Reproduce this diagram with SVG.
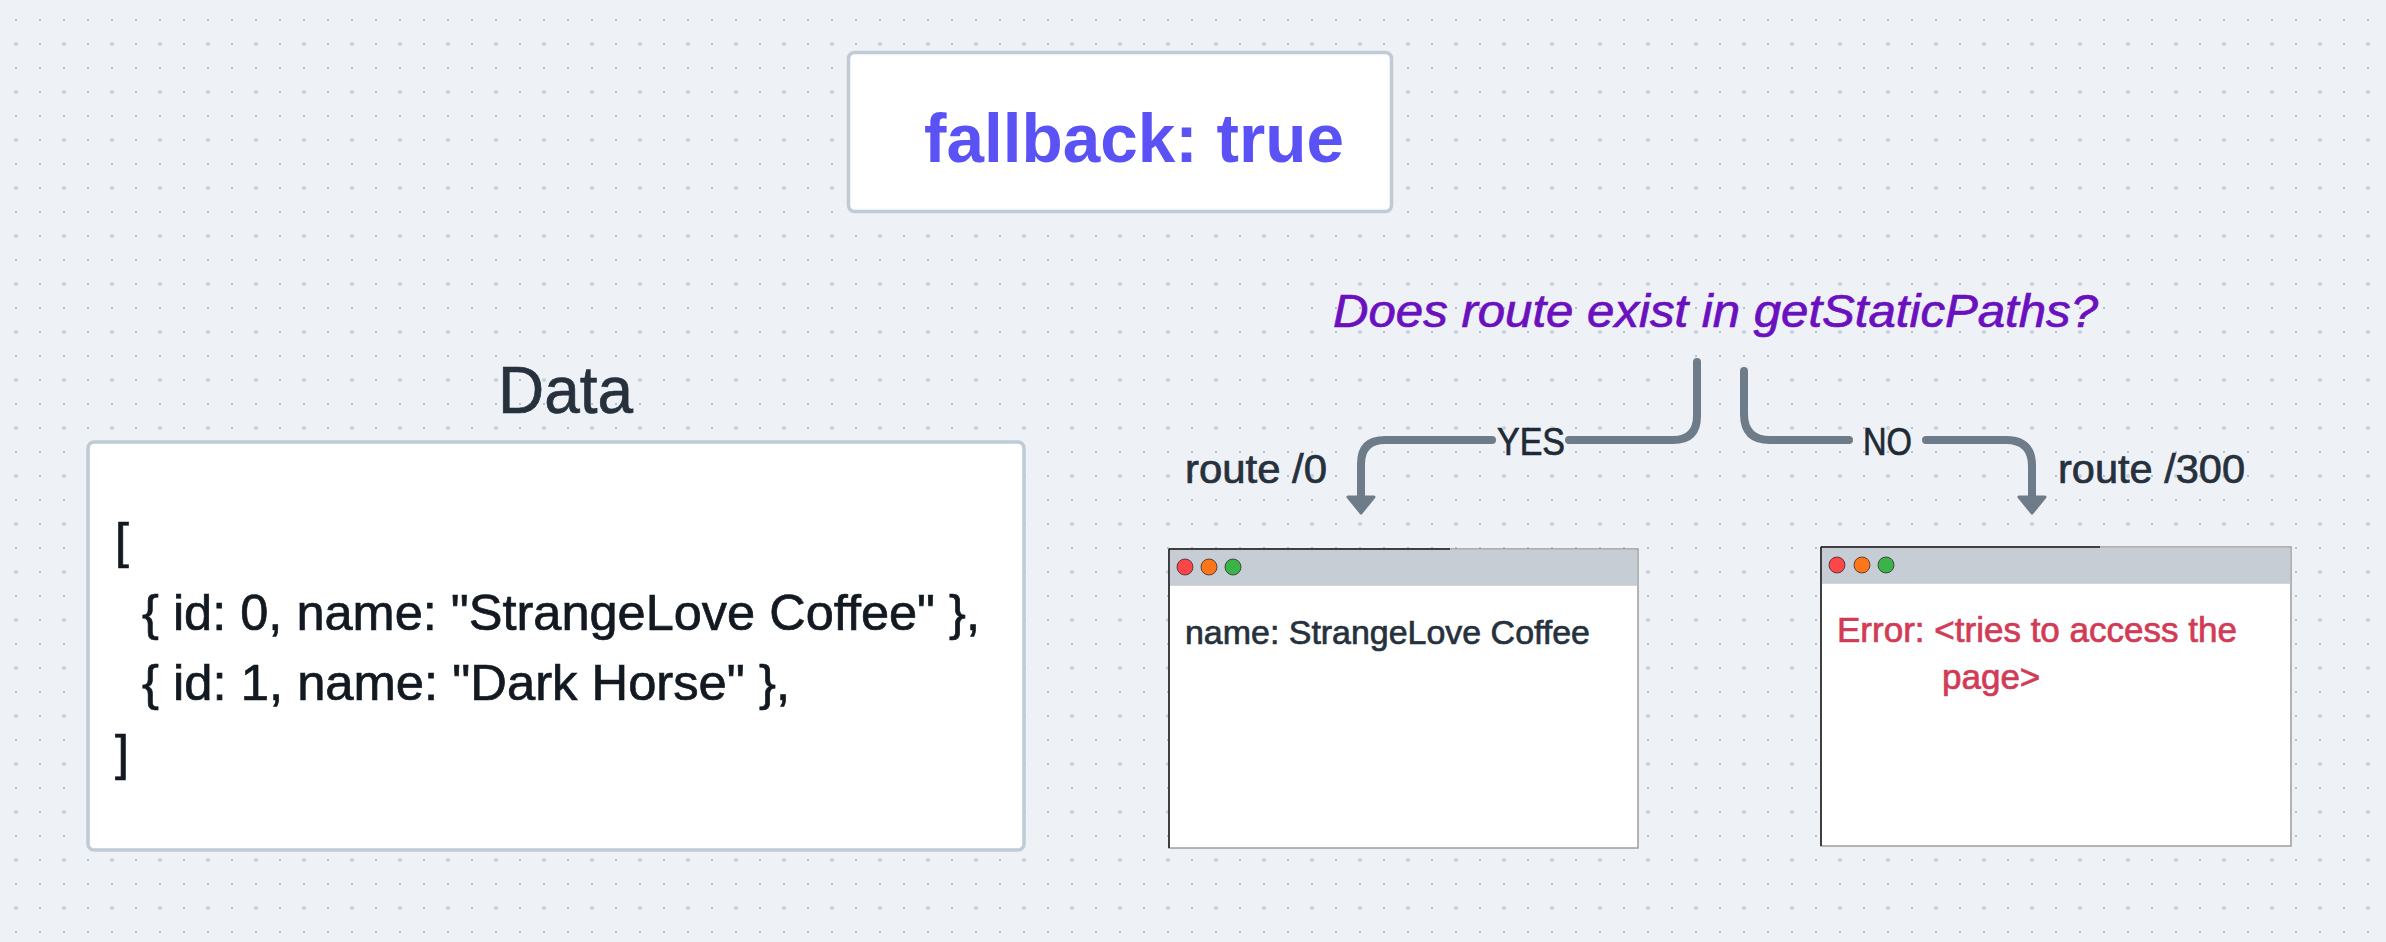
<svg xmlns="http://www.w3.org/2000/svg" width="2386" height="942" viewBox="0 0 2386 942">
<defs>
<pattern id="dots" patternUnits="userSpaceOnUse" width="48" height="48">
<rect x="15" y="19" width="2" height="2" fill="#b9c2cc"/>
<rect x="39" y="19" width="2" height="2" fill="#b9c2cc"/>
<rect x="39" y="43" width="2" height="2" fill="#b9c2cc"/>
<circle cx="16" cy="44" r="2" fill="#c6d0db"/>
</pattern>
<style>
.t{font-family:"Liberation Sans",Arial,sans-serif;}
.dark{fill:#26313d;}
.med{stroke-width:0.7;}
.conn{fill:none;stroke:#6e7b89;stroke-width:8;stroke-linecap:round;stroke-linejoin:round;}
.head{fill:#6e7b89;stroke:#6e7b89;stroke-width:3;stroke-linejoin:round;}
.card{fill:#ffffff;stroke:#bfcbd6;stroke-width:3.5;}
.win{fill:#ffffff;stroke:#9c9c9c;stroke-width:1.5;}
.bar{fill:#c7cdd4;}
.dot{stroke:#3a2a2a;stroke-width:0.8;}
</style>
</defs>
<rect width="2386" height="942" fill="#eef1f5"/>
<rect width="2386" height="942" fill="url(#dots)"/>

<g id="fallback">
<rect class="card" x="848.5" y="52.5" width="543" height="159" rx="6"/>
<text class="t" x="924" y="162" font-size="68" font-weight="bold" fill="#5b52f5" textLength="420" lengthAdjust="spacingAndGlyphs">fallback: true</text>
</g>

<g id="question">
<text class="t med" x="1333" y="327" font-size="46" font-style="italic" fill="#6a10bf" stroke="#6a10bf" textLength="765" lengthAdjust="spacingAndGlyphs">Does route exist in getStaticPaths?</text>
</g>

<g id="data">
<text class="t dark med" x="498" y="413" font-size="67" stroke="#26313d" textLength="135" lengthAdjust="spacingAndGlyphs">Data</text>
<rect class="card" x="88" y="442" width="936" height="408" rx="6"/>
<g class="t med" font-size="50" fill="#121921" stroke="#121921">
<text x="115" y="558">[</text>
<text x="142" y="630" textLength="838" lengthAdjust="spacingAndGlyphs">{ id: 0, name: "StrangeLove Coffee" },</text>
<text x="142" y="700" textLength="648" lengthAdjust="spacingAndGlyphs">{ id: 1, name: "Dark Horse" },</text>
<text x="115" y="770">]</text>
</g>
</g>

<g id="connectors">
<path class="conn" d="M1697,362 V416 Q1697,440 1673,440 H1569"/>
<path class="conn" d="M1492,440 H1385 Q1361,440 1361,464 V497"/>
<polygon class="head" points="1348,497 1374,497 1361,513"/>
<path class="conn" d="M1744,371 V414 Q1744,440 1770,440 H1849"/>
<path class="conn" d="M1926,440 H2006 Q2032,440 2032,466 V497"/>
<polygon class="head" points="2019,497 2045,497 2032,513"/>
<text class="t med" x="1531" y="455" font-size="38" fill="#1f2a36" stroke="#1f2a36" text-anchor="middle" textLength="68" lengthAdjust="spacingAndGlyphs">YES</text>
<text class="t med" x="1887.5" y="455" font-size="38" fill="#1f2a36" stroke="#1f2a36" text-anchor="middle" textLength="49" lengthAdjust="spacingAndGlyphs">NO</text>
<text class="t dark med" x="1185" y="483" font-size="40" stroke="#26313d" textLength="142" lengthAdjust="spacingAndGlyphs">route /0</text>
<text class="t dark med" x="2058" y="483" font-size="40" stroke="#26313d" textLength="187" lengthAdjust="spacingAndGlyphs">route /300</text>
</g>

<g id="window-yes">
<rect class="win" x="1169" y="549" width="469" height="299"/>
<rect class="bar" x="1169.8" y="549.8" width="467.4" height="36"/>
<path d="M1169,549 H1450 M1169,549 V848" stroke="#1a1a1a" stroke-width="1.5" fill="none"/>
<circle class="dot" cx="1185" cy="567" r="8" fill="#fc4649"/>
<circle class="dot" cx="1209" cy="567" r="8" fill="#fd761a"/>
<circle class="dot" cx="1233" cy="567" r="8" fill="#38b449"/>
<text class="t dark med" x="1185" y="644" font-size="34" stroke="#26313d" textLength="405" lengthAdjust="spacingAndGlyphs">name: StrangeLove Coffee</text>
</g>

<g id="window-no">
<rect class="win" x="1821" y="547" width="470" height="299"/>
<rect class="bar" x="1821.8" y="547.8" width="468.4" height="36"/>
<path d="M1821,547 H2100 M1821,547 V846" stroke="#1a1a1a" stroke-width="1.5" fill="none"/>
<circle class="dot" cx="1837" cy="565" r="8" fill="#fc4649"/>
<circle class="dot" cx="1862" cy="565" r="8" fill="#fd761a"/>
<circle class="dot" cx="1886" cy="565" r="8" fill="#38b449"/>
<text class="t med" x="1837" y="642" font-size="35" fill="#d23b55" stroke="#d23b55" textLength="400" lengthAdjust="spacingAndGlyphs">Error: &lt;tries to access the</text>
<text class="t med" x="1942" y="689" font-size="35" fill="#d23b55" stroke="#d23b55">page&gt;</text>
</g>
</svg>
